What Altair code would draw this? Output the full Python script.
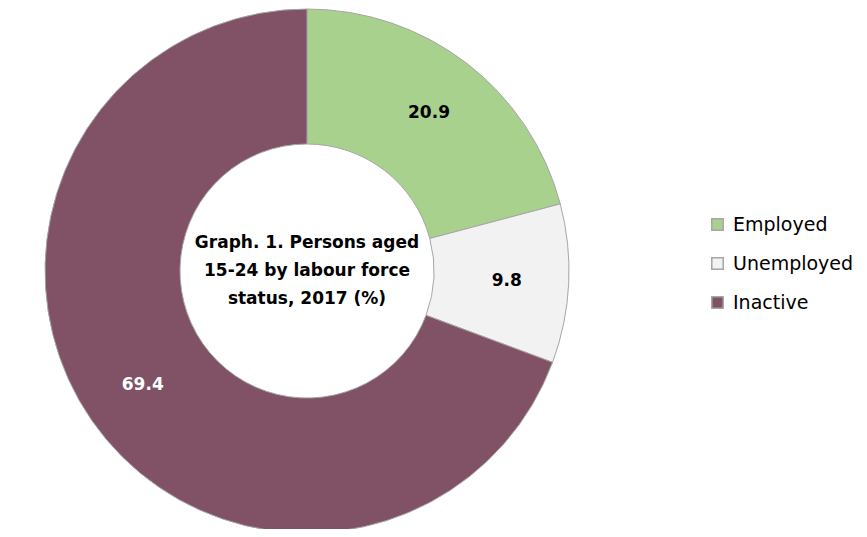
import altair as alt
import pandas as pd

categories = ["Employed", "Unemployed", "Inactive"]
values = [20.9, 9.8, 69.4]
colors = ["#A9D18E", "#F2F2F2", "#815166"]
label_colors = ["#000000", "#000000", "#FFFFFF"]
center_title = ["Graph. 1. Persons aged", "15-24 by labour force", "status, 2017 (%)"]

df = pd.DataFrame({
    "status": categories,
    "value": values,
    "order": list(range(len(categories))),
    "label": [f"{v:.1f}" for v in values],
    "lc": label_colors,
})

CX, CY = 299, 263
FONT = "DejaVu Sans"

base = alt.Chart(df).encode(
    theta=alt.Theta("value:Q", stack=True),
    order=alt.Order("order:Q"),
)

arcs = base.mark_arc(
    outerRadius=262, innerRadius=127, stroke="#A6A6A6", strokeWidth=1
).encode(
    x=alt.value(CX),
    y=alt.value(CY),
    color=alt.Color(
        "status:N",
        sort=categories,
        scale=alt.Scale(domain=categories, range=colors),
        legend=alt.Legend(
            title=None,
            orient="none",
            legendX=700,
            legendY=207,
            symbolType="square",
            symbolSize=130,
            symbolStrokeColor="#A6A6A6",
            symbolStrokeWidth=1.5,
            labelFontSize=19,
            labelFont=FONT,
            labelColor="#000000",
            rowPadding=19,
            labelOffset=6,
        ),
    ),
)

labels = base.mark_text(
    radius=200, font=FONT, fontSize=17, fontWeight="bold"
).encode(
    x=alt.value(CX),
    y=alt.value(CY),
    text="label:N",
    color=alt.Color("lc:N", scale=None),
)

title_df = pd.DataFrame({"t": [center_title]})
center = alt.Chart(title_df).mark_text(
    font=FONT, fontSize=17, fontWeight="bold", lineHeight=28,
    align="center", baseline="middle", color="#000000"
).encode(
    x=alt.value(CX),
    y=alt.value(CY - 28),
    text="t",
)

chart = alt.layer(arcs, labels, center).properties(
    width=851, height=521,
    autosize=alt.AutoSizeParams(type="none"),
    padding=0,
).configure_view(stroke=None)

chart.save("out.html", embed_options={"renderer": "svg", "actions": False})
